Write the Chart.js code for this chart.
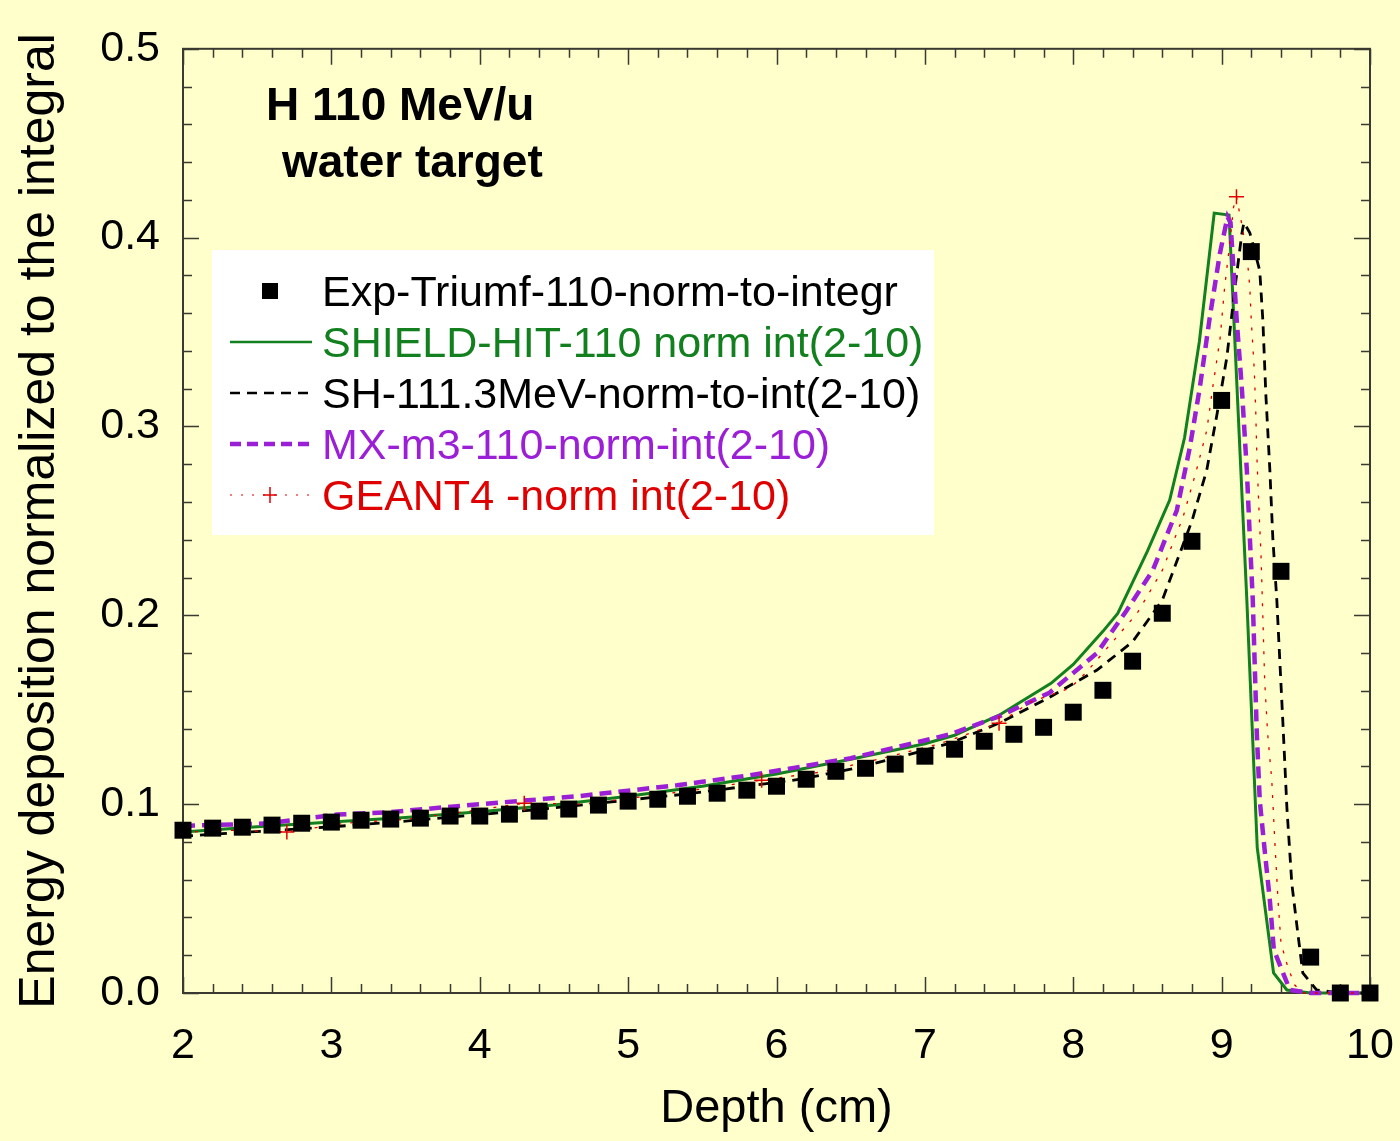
<!DOCTYPE html>
<html>
<head>
<meta charset="utf-8">
<title>H 110 MeV/u water target</title>
<script src="https://cdn.jsdelivr.net/npm/chart.js@4.4.1/dist/chart.umd.min.js"></script>
<style>
  html, body { margin: 0; padding: 0; background: #FFFFCC; }
  #wrap { width: 1400px; height: 1141px; }
</style>
</head>
<body>
<div id="wrap"><canvas id="bragg-chart" width="1400" height="1141"></canvas></div>
<script>
// Depth-dose curves, normalised to the integral over 2-10 cm
const FONT = "'Liberation Sans', Arial, sans-serif";

// measured points (TRIUMF)
const expDepth = [2.0, 2.2, 2.4, 2.6, 2.8, 3.0, 3.2, 3.4, 3.6, 3.8, 4.0, 4.2, 4.4, 4.6, 4.8, 5.0, 5.2, 5.4, 5.6, 5.8,
                  6.0, 6.2, 6.4, 6.6, 6.8, 7.0, 7.2, 7.4, 7.6, 7.8, 8.0, 8.2, 8.4, 8.6, 8.8, 9.0, 9.2, 9.4, 9.6, 9.8, 10.0];
const expDose = [0.0862, 0.0873, 0.0878, 0.0889, 0.0899, 0.0905, 0.0915, 0.0921, 0.0926, 0.0937, 0.0937, 0.0947, 0.0963,
                 0.0974, 0.0995, 0.1016, 0.1026, 0.1042, 0.1058, 0.1074, 0.1095, 0.1132, 0.1174, 0.1190, 0.1212, 0.1254,
                 0.1291, 0.1333, 0.1370, 0.1407, 0.1487, 0.1603, 0.1757, 0.2011, 0.2392, 0.3138, 0.3926, 0.2233, 0.0190,
                 0.0000, 0.0000];

// SHIELD-HIT, 110 MeV
const shDepth = [2.0, 2.5, 3.0, 3.5, 4.0, 4.5, 5.0, 5.5, 6.0, 6.5, 7.0, 7.2, 7.5, 7.85, 8.0, 8.2, 8.3, 8.5, 8.65, 8.75,
                 8.85, 8.95, 9.05, 9.17, 9.24, 9.35, 9.44, 9.6, 10.0];
const shDose = [0.0852, 0.0880, 0.0905, 0.0930, 0.0960, 0.0995, 0.1042, 0.1095, 0.1160, 0.1238, 0.1320, 0.1365, 0.1471,
                0.1640, 0.1740, 0.1915, 0.2010, 0.2340, 0.2610, 0.2940, 0.3450, 0.4130, 0.4120, 0.2080, 0.0770, 0.0106,
                0.0016, 0.0, 0.0];

// SHIELD-HIT, 111.3 MeV
const sh111Depth = [2.0, 2.2, 2.6, 3.0, 3.5, 4.0, 4.4, 5.05, 5.37, 5.8, 6.16, 6.5, 6.83, 7.17, 7.5, 7.84, 8.16, 8.4, 8.6,
                    8.8, 8.9, 8.97, 9.035, 9.09, 9.136, 9.15, 9.19, 9.257, 9.278, 9.298, 9.325, 9.345, 9.372, 9.413,
                    9.44, 9.473, 9.513, 9.547, 9.64, 9.8, 10.0];
const sh111Dose = [0.0830, 0.0841, 0.0860, 0.0880, 0.0910, 0.0945, 0.0972, 0.1026, 0.1052, 0.1095, 0.1132, 0.1185,
                   0.1249, 0.1323, 0.1429, 0.1566, 0.1710, 0.1860, 0.2080, 0.2500, 0.2770, 0.3070, 0.3365, 0.3735,
                   0.4020, 0.4080, 0.4026, 0.3825, 0.3560, 0.3170, 0.2770, 0.2410, 0.2080, 0.1430, 0.0980, 0.0580,
                   0.0320, 0.0106, 0.0016, 0.0, 0.0];

// MCNPX
const mxDepth = [2.0, 2.55, 3.04, 3.4, 4.0, 4.66, 5.33, 5.82, 6.5, 7.17, 7.5, 7.84, 8.16, 8.36, 8.536, 8.698, 8.786,
                 8.853, 8.92, 8.988, 9.04, 9.06, 9.102, 9.136, 9.17, 9.19, 9.21, 9.237, 9.257, 9.29, 9.325, 9.352,
                 9.406, 9.46, 9.6, 10.0];
const mxDose = [0.0885, 0.0897, 0.0945, 0.0958, 0.1000, 0.1042, 0.1100, 0.1153, 0.1243, 0.1370, 0.1465, 0.1590, 0.1800,
                0.2026, 0.2238, 0.2556, 0.2890, 0.3206, 0.3577, 0.3915, 0.4110, 0.4080, 0.3560, 0.3206, 0.2767, 0.2413,
                0.2080, 0.1376, 0.1020, 0.0757, 0.0492, 0.0228, 0.0122, 0.0016, 0.0, 0.0];

// GEANT4
const g4Depth = [2.0, 2.3, 2.7, 3.1, 3.5, 3.9, 4.3, 4.7, 5.1, 5.5, 5.9, 6.3, 6.7, 7.1, 7.5, 7.71, 7.98, 8.09, 8.43, 8.6,
                 8.74, 8.83, 8.9, 8.94, 8.99, 9.02, 9.055, 9.08, 9.1, 9.136, 9.17, 9.19, 9.2, 9.22, 9.23, 9.237, 9.25,
                 9.265, 9.278, 9.29, 9.31, 9.338, 9.358, 9.38, 9.4, 9.446, 9.493, 9.547, 10.0];
const g4Dose = [0.0850, 0.0862, 0.0853, 0.0900, 0.0920, 0.0960, 0.1005, 0.1000, 0.1040, 0.1080, 0.1127, 0.1170, 0.1240,
                0.1320, 0.1429, 0.1540, 0.1615, 0.1700, 0.2010, 0.2238, 0.2520, 0.2767, 0.2980, 0.3206, 0.3470, 0.3735,
                0.3970, 0.4160, 0.4217, 0.4070, 0.3915, 0.3735, 0.3560, 0.3300, 0.3080, 0.2857, 0.2590, 0.2330, 0.1990,
                0.1656, 0.1376, 0.1127, 0.0810, 0.0492, 0.0265, 0.0138, 0.0042, 0.0, 0.0];
// depths where the GEANT4 curve carries a "+" marker
const g4MarkerDepth = [2.7, 4.3, 5.9, 7.5, 9.1];

const xTicks = [2, 3, 4, 5, 6, 7, 8, 9, 10];
const yTicks = [0.0, 0.1, 0.2, 0.3, 0.4, 0.5];

const GREEN = '#12801E';
const PURPLE = '#9A1FD6';
const RED = '#E00000';

function pairs(xs, ys) {
    return xs.map((x, i) => ({ x: x, y: ys[i] }));
}

// legend entries, drawn in the white box
const legendItems = [
    { text: 'Exp-Triumf-110-norm-to-integr', color: '#000', kind: 'square' },
    { text: 'SHIELD-HIT-110 norm int(2-10)', color: GREEN, kind: 'line', width: 2.5, dash: [] },
    { text: 'SH-111.3MeV-norm-to-int(2-10)', color: '#000', kind: 'line', width: 2.5, dash: [10, 7] },
    { text: 'MX-m3-110-norm-int(2-10)', color: PURPLE, kind: 'line', width: 4.5, dash: [11, 6] },
    { text: 'GEANT4 -norm int(2-10)', color: RED, kind: 'cross', width: 1.2, dash: [2, 9] }
];

// plot background
const paper = {
    id: 'paper',
    beforeDraw(chart) {
        const c = chart.ctx;
        c.save();
        c.fillStyle = '#FFFFCC';
        c.fillRect(0, 0, chart.width, chart.height);
        c.restore();
    }
};

// box frame with inward ticks on all four sides
const frameTicks = {
    id: 'frameTicks',
    beforeDatasetsDraw(chart) {
        const { ctx: c, chartArea: a, scales: { x, y } } = chart;
        c.save();
        c.strokeStyle = '#3a3a30';
        c.lineWidth = 2;
        c.strokeRect(a.left, a.top, a.right - a.left, a.bottom - a.top);
        c.lineWidth = 1.5;
        c.beginPath();
        for (let i = 0; i <= 40; i++) {
            const px = Math.round(x.getPixelForValue(2 + i * 0.2)) + 0.5;
            const len = i % 5 === 0 ? 16 : 9;
            c.moveTo(px, a.bottom); c.lineTo(px, a.bottom - len);
            c.moveTo(px, a.top); c.lineTo(px, a.top + len);
        }
        for (let j = 0; j <= 25; j++) {
            const py = Math.round(y.getPixelForValue(j * 0.02)) + 0.5;
            const len = j % 5 === 0 ? 16 : 9;
            c.moveTo(a.left, py); c.lineTo(a.left + len, py);
            c.moveTo(a.right, py); c.lineTo(a.right - len, py);
        }
        c.stroke();
        c.restore();
    }
};

// beam label and legend box
const annotations = {
    id: 'annotations',
    afterDraw(chart) {
        const c = chart.ctx;
        c.save();
        c.fillStyle = '#000';
        c.font = 'bold 46px ' + FONT;
        c.textBaseline = 'alphabetic';
        c.fillText('H 110 MeV/u', 266, 120);
        c.fillText('water target', 282, 177);

        c.fillStyle = '#FFFFFF';
        c.fillRect(212, 250, 722, 285);

        c.font = '43px ' + FONT;
        legendItems.forEach((item, i) => {
            const base = 306 + i * 51;
            const mid = base - 15;
            c.strokeStyle = item.color;
            c.fillStyle = item.color;
            if (item.kind === 'square') {
                c.fillRect(262, mid - 8, 16, 16);
            } else {
                c.lineWidth = item.width;
                c.setLineDash(item.dash);
                c.beginPath();
                c.moveTo(230, mid);
                c.lineTo(312, mid);
                c.stroke();
                c.setLineDash([]);
                if (item.kind === 'cross') {
                    c.lineWidth = 1.5;
                    c.beginPath();
                    c.moveTo(263, mid); c.lineTo(277, mid);
                    c.moveTo(270, mid - 8); c.lineTo(270, mid + 8);
                    c.stroke();
                }
            }
            c.fillText(item.text, 322, base);
        });
        c.restore();
    }
};

const ctx = document.getElementById('bragg-chart').getContext('2d');

new Chart(ctx, {
    type: 'scatter',
    data: {
        datasets: [
            {
                label: 'Exp-Triumf-110-norm-to-integr',
                data: pairs(expDepth, expDose),
                showLine: false,
                pointStyle: 'rect',
                pointRadius: 12,
                backgroundColor: '#000',
                borderColor: '#000',
                borderWidth: 0,
                clip: false
            },
            {
                label: 'GEANT4 -norm int(2-10)',
                data: pairs(g4Depth, g4Dose),
                showLine: true,
                borderColor: RED,
                borderWidth: 1.3,
                borderDash: [3, 9],
                pointStyle: 'cross',
                pointRadius: c => (c.raw && g4MarkerDepth.includes(c.raw.x)) ? 7.5 : 0,
                pointBorderColor: RED,
                pointBorderWidth: 1.5,
                clip: false
            },
            {
                label: 'MX-m3-110-norm-int(2-10)',
                data: pairs(mxDepth, mxDose),
                showLine: true,
                borderColor: PURPLE,
                borderWidth: 4.5,
                borderDash: [12, 7],
                pointRadius: 0,
                clip: false
            },
            {
                label: 'SH-111.3MeV-norm-to-int(2-10)',
                data: pairs(sh111Depth, sh111Dose),
                showLine: true,
                borderColor: '#000',
                borderWidth: 2.8,
                borderDash: [10, 7],
                pointRadius: 0,
                clip: false
            },
            {
                label: 'SHIELD-HIT-110 norm int(2-10)',
                data: pairs(shDepth, shDose),
                showLine: true,
                borderColor: GREEN,
                borderWidth: 3,
                pointRadius: 0,
                clip: false
            }
        ]
    },
    options: {
        responsive: false,
        animation: false,
        devicePixelRatio: 1,
        layout: { padding: { top: 48, right: 30, left: 0, bottom: 0 } },
        plugins: {
            legend: { display: false },
            tooltip: { enabled: false }
        },
        scales: {
            x: {
                type: 'linear',
                min: 2,
                max: 10,
                afterBuildTicks: s => { s.ticks = xTicks.map(v => ({ value: v })); },
                afterFit: s => {
                    s.height = 148;
                    // let the "10" label hang into the right margin
                    s.paddingLeft = 0;
                    s.paddingRight = 0;
                },
                grid: { display: false, drawTicks: false },
                border: { display: false },
                ticks: {
                    padding: 27,
                    color: '#000',
                    font: { family: FONT, size: 43 },
                    callback: v => String(v)
                },
                title: {
                    display: true,
                    text: 'Depth (cm)',
                    color: '#000',
                    font: { family: FONT, size: 47 },
                    padding: { top: 0, bottom: 4 }
                }
            },
            y: {
                type: 'linear',
                min: 0,
                max: 0.5,
                afterBuildTicks: s => { s.ticks = yTicks.map(v => ({ value: v })); },
                afterFit: s => { s.width = 183; },
                grid: { display: false, drawTicks: false },
                border: { display: false },
                ticks: {
                    padding: 23,
                    color: '#000',
                    font: { family: FONT, size: 43 },
                    callback: v => v.toFixed(1)
                },
                title: {
                    display: true,
                    text: 'Energy deposition normalized to the integral',
                    color: '#000',
                    font: { family: FONT, size: 50 },
                    padding: { top: 10, bottom: 0 }
                }
            }
        }
    },
    plugins: [paper, frameTicks, annotations]
});
</script>
</body>
</html>
